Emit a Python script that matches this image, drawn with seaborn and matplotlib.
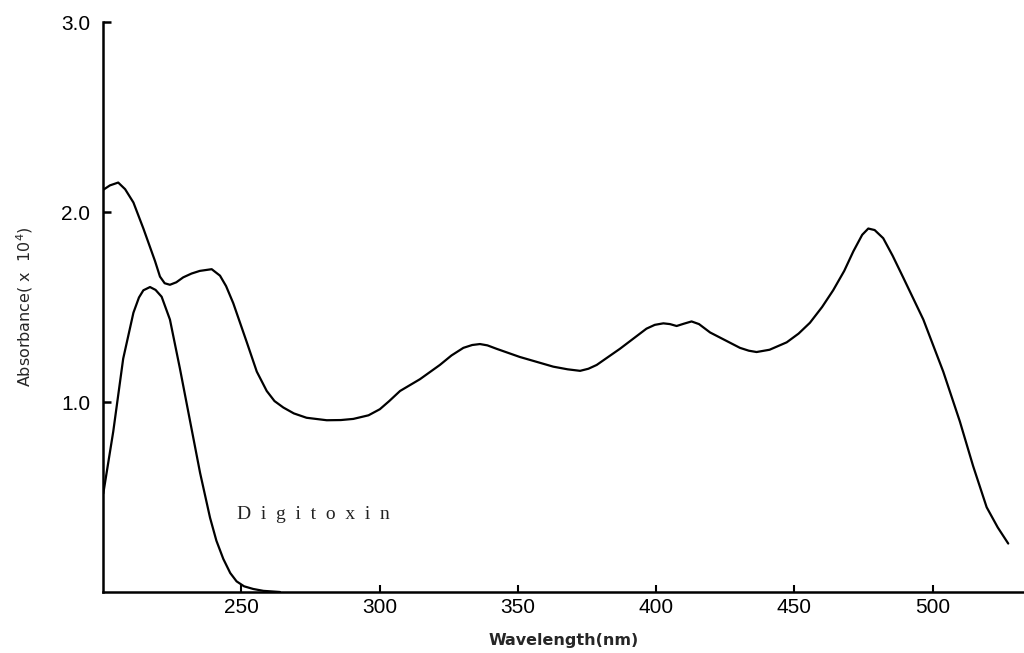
import matplotlib
matplotlib.use("Agg")
import matplotlib.pyplot as plt
import seaborn as sns
import pandas as pd

# Main compound spectrum (wavelength nm, absorbance x 10^4)
main_wl = [200.1, 202.5, 205.5, 208.0, 211.0, 214.6, 218.8, 220.6, 222.3, 224.2, 226.5, 229.0, 232.0, 235.0, 239.3,
           242.3, 244.5, 247.1, 252.0, 255.6, 259.2, 262.0, 265.2, 269.0, 273.6, 280.9, 286.0, 290.5, 296.0, 300.1,
           303.5, 307.4, 314.6, 321.8, 326.0, 330.3, 333.5, 336.3, 339.0, 342.3, 350.7, 362.8, 368.0, 372.5,
           375.5, 378.5, 386.9, 396.5, 399.5, 402.6, 405.0, 407.4, 410.0, 412.8, 415.5, 419.5, 430.3, 433.5,
           436.3, 441.0, 447.2, 451.5, 455.6, 460.0, 464.0, 468.0, 471.3, 474.5, 476.7, 479.0, 482.1,
           485.5, 489.3, 496.6, 503.8, 509.8, 514.6, 519.5, 523.5, 527.3]
main_abs = [2.117, 2.14, 2.155, 2.12, 2.05, 1.913, 1.742, 1.66, 1.625, 1.617, 1.63, 1.656, 1.676, 1.69, 1.699,
            1.665, 1.61, 1.52, 1.314, 1.16, 1.058, 1.005, 0.971, 0.94, 0.917, 0.904, 0.905, 0.911, 0.93, 0.962,
            1.005, 1.058, 1.12, 1.195, 1.245, 1.285, 1.30, 1.305, 1.298, 1.28, 1.237, 1.186, 1.172, 1.164,
            1.175, 1.195, 1.28, 1.386, 1.406, 1.414, 1.41, 1.40, 1.412, 1.424, 1.41, 1.366, 1.285, 1.27,
            1.263, 1.275, 1.314, 1.36, 1.417, 1.50, 1.588, 1.69, 1.793, 1.88, 1.913, 1.905, 1.862,
            1.77, 1.656, 1.434, 1.16, 0.898, 0.663, 0.446, 0.34, 0.255]

# Digitoxin spectrum
dig_wl = [200.1, 203.7, 207.3, 211.0, 213.0, 214.6, 217.0, 219.0, 221.2, 224.2, 227.8, 231.5, 235.1,
          238.7, 241.0, 243.5, 246.0, 248.3, 251.0, 254.3, 258.0, 264.0]
dig_abs = [0.518, 0.844, 1.228, 1.47, 1.55, 1.588, 1.605, 1.59, 1.554, 1.434, 1.177, 0.898, 0.627,
           0.391, 0.27, 0.174, 0.10, 0.056, 0.03, 0.016, 0.006, 0.0]

x_ticks = [250, 300, 350, 400, 450, 500]
x_tick_labels = ["250", "300", "350", "400", "450", "500"]
y_ticks = [1.0, 2.0, 3.0]
y_tick_labels = ["1.0", "2.0", "3.0"]

sns.set_theme(style="ticks")
plt.rcParams['font.family'] = ['Liberation Sans', 'DejaVu Sans']

fig = plt.figure(figsize=(10.24, 6.53), dpi=100)
ax = fig.add_axes([103 / 1024, 61 / 653, 921 / 1024, 570 / 653])

df_main = pd.DataFrame({"wl": main_wl, "abs": main_abs})
df_dig = pd.DataFrame({"wl": dig_wl, "abs": dig_abs})
sns.lineplot(data=df_main, x="wl", y="abs", ax=ax, color="black", linewidth=1.6,
             estimator=None, sort=False)
sns.lineplot(data=df_dig, x="wl", y="abs", ax=ax, color="black", linewidth=1.6,
             estimator=None, sort=False)
for ln in ax.lines:
    ln.set_solid_joinstyle("round")

ax.set_xlim(200, 533)
ax.set_ylim(0, 3.0)
ax.set_xticks(x_ticks)
ax.set_xticklabels(x_tick_labels)
ax.set_yticks(y_ticks)
ax.set_yticklabels(y_tick_labels)

for s in ["top", "right"]:
    ax.spines[s].set_visible(False)
for s in ["left", "bottom"]:
    ax.spines[s].set_color("black")
    ax.spines[s].set_linewidth(1.8)

ax.tick_params(axis="x", direction="in", length=5, width=1.5, pad=4, labelsize=15, colors="black")
ax.tick_params(axis="y", direction="in", length=6, width=1.8, pad=9, labelsize=15, colors="black")

ax.set_xlabel("Wavelength(nm)", fontsize=11.5, fontweight="semibold", labelpad=12,
              family=["DejaVu Sans"])
ax.set_ylabel("Absorbance( x  10$^4$)", fontsize=11.5, labelpad=19, family=["DejaVu Sans"])

ax.text(248.4, 0.41, "D  i  g  i  t  o  x  i  n", fontsize=14, family=["Liberation Serif", "DejaVu Serif"],
        ha="left", va="center", color="#222222")

ax.set_facecolor("white")
fig.patch.set_facecolor("white")
fig.savefig("out.png", dpi=100, facecolor="white")
